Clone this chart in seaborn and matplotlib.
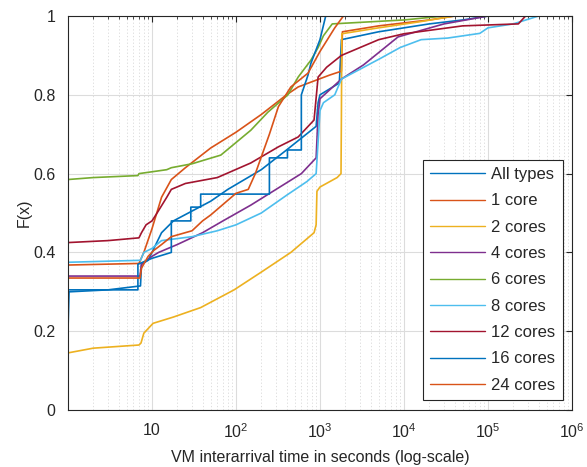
import numpy as np
import pandas as pd
import matplotlib
matplotlib.use("Agg")
import matplotlib.pyplot as plt
import matplotlib.ticker as mticker
import seaborn as sns

# CDF knots (x in seconds, F(x))
all_x = [1, 1.03, 3, 7.3, 7.5, 9, 10, 13, 18, 50, 80, 200, 400, 900, 950, 1000, 1700, 1800, 5000, 2e4, 5e4, 1e5, 1e6]
all_f = [0.20, 0.30, 0.305, 0.315, 0.37, 0.38, 0.40, 0.45, 0.48, 0.53, 0.56, 0.61, 0.66, 0.72, 0.78, 0.80, 0.83, 0.94, 0.96, 0.98, 0.99, 1.0, 1.0]

c1_x = [1, 7, 8, 10, 13, 17, 25, 50, 100, 200, 400, 550, 1300, 1800, 1850, 5000, 2e4, 4e4, 1e6]
c1_f = [0.368, 0.372, 0.40, 0.46, 0.54, 0.585, 0.615, 0.665, 0.705, 0.75, 0.80, 0.82, 0.85, 0.86, 0.96, 0.975, 0.99, 1.0, 1.0]

c2_x = [1, 2, 7, 7.4, 8, 10.3, 18, 38, 95, 200, 450, 850, 900, 920, 1000, 1600, 1780, 1800, 1820, 5000, 1.5e4, 4e4, 1e6]
c2_f = [0.145, 0.157, 0.165, 0.17, 0.195, 0.22, 0.236, 0.26, 0.305, 0.35, 0.40, 0.45, 0.47, 0.555, 0.566, 0.59, 0.60, 0.75, 0.955, 0.97, 0.985, 1.0, 1.0]

c4_x = [1, 7.2, 7.5, 10, 12, 20, 40, 70, 150, 300, 600, 900, 950, 1000, 1800, 3300, 8500, 3e4, 1e5, 1e6]
c4_f = [0.34, 0.34, 0.37, 0.39, 0.40, 0.42, 0.45, 0.48, 0.52, 0.56, 0.60, 0.64, 0.75, 0.79, 0.84, 0.876, 0.947, 0.98, 1.0, 1.0]

c6_x = [1, 2, 6.8, 7, 15, 17, 30, 66, 150, 240, 415, 550, 780, 950, 1100, 1400, 1e4, 3e4, 1e6]
c6_f = [0.585, 0.59, 0.595, 0.60, 0.61, 0.615, 0.625, 0.647, 0.71, 0.756, 0.80, 0.845, 0.888, 0.92, 0.95, 0.98, 0.99, 1.0, 1.0]

c8_x = [1, 7.3, 8, 10, 13, 30, 60, 100, 200, 400, 700, 900, 950, 1000, 1100, 1500, 1800, 3000, 5300, 9000, 1.6e4, 3.3e4, 8e4, 1e5, 2e5, 4e5, 1e6]
c8_f = [0.375, 0.38, 0.40, 0.41, 0.43, 0.44, 0.455, 0.47, 0.50, 0.545, 0.58, 0.60, 0.68, 0.76, 0.78, 0.80, 0.84, 0.865, 0.893, 0.92, 0.94, 0.944, 0.956, 0.97, 0.98, 1.0, 1.0]

c12_x = [1, 3, 7, 7.5, 8.5, 10, 11.5, 15, 17, 25, 60, 150, 320, 550, 850, 950, 1200, 1800, 3000, 5000, 1e4, 5e4, 2.3e5, 2.8e5, 1e6]
c12_f = [0.425, 0.43, 0.437, 0.45, 0.47, 0.48, 0.50, 0.54, 0.56, 0.575, 0.59, 0.627, 0.668, 0.693, 0.736, 0.845, 0.87, 0.90, 0.92, 0.94, 0.955, 0.975, 0.98, 1.0, 1.0]

c16_x = [1, 6.8, 6.8, 10, 17, 17, 29, 29, 38, 38, 250, 250, 410, 410, 600, 600, 720, 780, 1000, 1170, 1e6]
c16_f = [0.305, 0.305, 0.37, 0.385, 0.40, 0.48, 0.48, 0.515, 0.515, 0.548, 0.548, 0.64, 0.64, 0.66, 0.66, 0.80, 0.85, 0.88, 0.94, 1.0, 1.0]

c24_x = [1, 7.2, 7.5, 9, 10.5, 13, 17, 30, 40, 50, 100, 140, 170, 250, 320, 450, 720, 1000, 1500, 1900, 1e6]
c24_f = [0.335, 0.335, 0.36, 0.39, 0.405, 0.42, 0.44, 0.455, 0.48, 0.495, 0.55, 0.56, 0.60, 0.70, 0.77, 0.82, 0.855, 0.91, 0.97, 1.0, 1.0]

labels = ["All types", "1 core", "2 cores", "4 cores", "6 cores", "8 cores", "12 cores", "16 cores", "24 cores"]
series_x = [all_x, c1_x, c2_x, c4_x, c6_x, c8_x, c12_x, c16_x, c24_x]
series_f = [all_f, c1_f, c2_f, c4_f, c6_f, c8_f, c12_f, c16_f, c24_f]
colors = ["#0072BD", "#D95319", "#EDB120", "#7E2F8E", "#77AC30", "#4DBEEE", "#A2142F", "#0072BD", "#D95319"]

xticks = [10, 1e2, 1e3, 1e4, 1e5, 1e6]
xticklabels = ["10", "$10^2$", "$10^3$", "$10^4$", "$10^5$", "$10^6$"]
yticks = [0, 0.2, 0.4, 0.6, 0.8, 1.0]
yticklabels = ["0", "0.2", "0.4", "0.6", "0.8", "1"]

frames = []
for lab, xs, fs in zip(labels, series_x, series_f):
    frames.append(pd.DataFrame({"x": xs, "F": fs, "type": lab}))
df = pd.concat(frames, ignore_index=True)

sns.set_style("white")
plt.rcParams["font.family"] = ["Liberation Sans", "DejaVu Sans"]
plt.rcParams["mathtext.fontset"] = "custom"
plt.rcParams["mathtext.rm"] = "Liberation Sans"
plt.rcParams["mathtext.it"] = "Liberation Sans"

fig = plt.figure(figsize=(5.87, 4.67), dpi=100)
ax = fig.add_axes([0.1158, 0.122, 0.8586, 0.8437])

sns.lineplot(data=df, x="x", y="F", hue="type", hue_order=labels, palette=colors,
             units="type", estimator=None, sort=False, linewidth=1.2, ax=ax)

ax.set_xscale("log")
ax.set_xlim(1, 1e6)
ax.set_ylim(0, 1)
ax.set_xticks(xticks)
ax.set_xticklabels(xticklabels)
ax.xaxis.set_minor_locator(mticker.LogLocator(base=10, subs=np.arange(2, 10), numticks=20))
ax.xaxis.set_minor_formatter(mticker.NullFormatter())
ax.set_yticks(yticks)
ax.set_yticklabels(yticklabels)

ax.grid(True, which="major", color="#dcdcdc", linewidth=0.8, linestyle="-")
ax.grid(True, which="minor", axis="x", color="#d8d8d8", linewidth=0.6, linestyle=(0, (1.5, 2.5)))
ax.set_axisbelow(True)

ax.tick_params(which="both", direction="in", top=True, right=True, colors="#262626", labelsize=11.5)
ax.tick_params(which="major", length=4)
ax.tick_params(which="minor", length=2.5)
ax.tick_params(axis="x", which="major", pad=9)
ax.tick_params(axis="y", which="major", pad=9)
for side in ax.spines.values():
    side.set_color("#262626")
    side.set_linewidth(0.8)

ax.set_xlabel("VM interarrival time in seconds (log-scale)", fontsize=11.5, color="#262626", labelpad=6)
ax.set_ylabel("F(x)", fontsize=11.5, color="#262626", labelpad=1)

handles, labs = ax.get_legend_handles_labels()
leg = ax.legend(handles, labs, loc="lower right", fontsize=12, frameon=True, fancybox=False,
                edgecolor="#262626", framealpha=1, handlelength=3.3, labelspacing=0.68,
                borderpad=0.45, handletextpad=0.35, borderaxespad=0,
                bbox_to_anchor=(0.982, 0.025))
leg.get_frame().set_linewidth(0.8)
for line in leg.get_lines():
    line.set_linewidth(1.0)

fig.savefig("out.png", dpi=100)
